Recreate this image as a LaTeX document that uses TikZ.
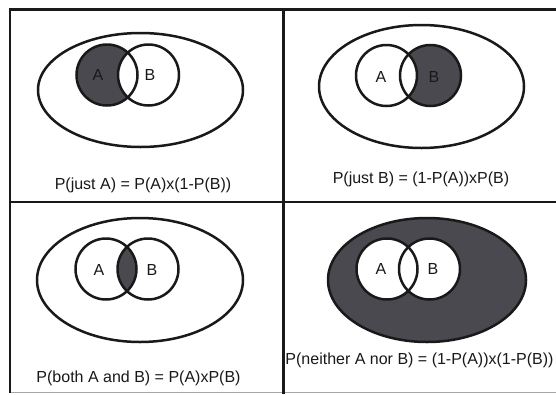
\documentclass[tikz,border=0pt]{standalone}
\usepackage{fontspec}
\setmainfont{Liberation Sans}
\definecolor{vennfill}{RGB}{74,73,80}
\definecolor{ink}{RGB}{25,25,25}
\begin{document}
\begin{tikzpicture}[x=1pt,y=-1pt,
  frame/.style={line width=2.2pt, draw=ink},
  setline/.style={line width=2.5pt, draw=ink},
  lbl/.style={anchor=base, inner sep=0pt, font=\fontsize{16}{19}\selectfont, text=ink},
  formula/.style={anchor=base, inner sep=0pt, font=\fontsize{16}{19}\selectfont, text=ink}]
\useasboundingbox (0,0) rectangle (556,394);
\fill[white] (0,0) rectangle (556,394);

% ---------- top left: just A
\coordinate (tlE) at (140.5,90);
\coordinate (tlA) at (107,75);
\coordinate (tlB) at (148.5,75);
\fill[vennfill] (tlA) circle[radius=30.5pt];
\fill[white] (tlB) circle[radius=30.5pt];
\draw[setline] (tlE) ellipse[x radius=102.5pt, y radius=57pt];
\draw[setline] (tlA) circle[radius=30.5pt];
\draw[setline] (tlB) circle[radius=30.5pt];
\node[lbl] (tlLA) at (98,80.5) {A};
\node[lbl] (tlLB) at (150,80.5) {B};
\node[formula] (tlF) at (143,189) {P(just A) = P(A)x(1-P(B))};

% ---------- top right: just B
\coordinate (trE) at (421.5,86.5);
\coordinate (trA) at (386.5,75.5);
\coordinate (trB) at (430.5,75.5);
\fill[vennfill] (trB) circle[radius=30.5pt];
\fill[white] (trA) circle[radius=30.5pt];
\draw[setline] (trE) ellipse[x radius=102.5pt, y radius=61.5pt];
\draw[setline] (trA) circle[radius=30.5pt];
\draw[setline] (trB) circle[radius=30.5pt];
\node[lbl] (trLA) at (381,82) {A};
\node[lbl] (trLB) at (434,82) {B};
\node[formula] (trF) at (421,183) {P(just B) = (1-P(A))xP(B)};

% ---------- bottom left: both
\coordinate (blE) at (140,280);
\coordinate (blA) at (106,269);
\coordinate (blB) at (148,269);
\begin{scope}
  \clip (blA) circle[radius=30.5pt];
  \fill[vennfill] (blB) circle[radius=30.5pt];
\end{scope}
\draw[setline] (blE) ellipse[x radius=103pt, y radius=62pt];
\draw[setline] (blA) circle[radius=30.5pt];
\draw[setline] (blB) circle[radius=30.5pt];
\node[lbl] (blLA) at (99,275) {A};
\node[lbl] (blLB) at (152,275) {B};
\node[formula] (blF) at (138.5,382) {P(both A and B) = P(A)xP(B)};

% ---------- bottom right: neither
\coordinate (brE) at (427,280);
\coordinate (brA) at (387,269);
\coordinate (brB) at (429.5,269);
\fill[vennfill] (brE) ellipse[x radius=99pt, y radius=62pt];
\fill[white] (brA) circle[radius=30.5pt];
\fill[white] (brB) circle[radius=30.5pt];
\draw[setline] (brE) ellipse[x radius=99pt, y radius=62pt];
\draw[setline] (brA) circle[radius=30.5pt];
\draw[setline] (brB) circle[radius=30.5pt];
\node[lbl] (brLA) at (381,274) {A};
\node[lbl] (brLB) at (433,274) {B};
\node[formula] (brF) at (419.5,364) {P(neither A nor B) = (1-P(A))x(1-P(B))};

% ---------- frame
\coordinate (fTL) at (10,9.5);
\coordinate (fTR) at (556,9.5);
\coordinate (fBL) at (10,392);
\coordinate (fMT) at (283.5,9.5);
\coordinate (fMB) at (283.5,394);
\coordinate (fML) at (10,202);
\coordinate (fMR) at (556,202);
\coordinate (fBR) at (556,392.5);
\coordinate (fBL2) at (10,392.5);
\draw[line width=1.5pt, draw=black!35] (fBL2) -- (fBR);
\draw[frame, line cap=rect] (fTR) -- (fTL) -- (fBL);
\draw[frame] (fMT) -- (fMB);
\draw[frame] (fML) -- (fMR);
\end{tikzpicture}
\end{document}
